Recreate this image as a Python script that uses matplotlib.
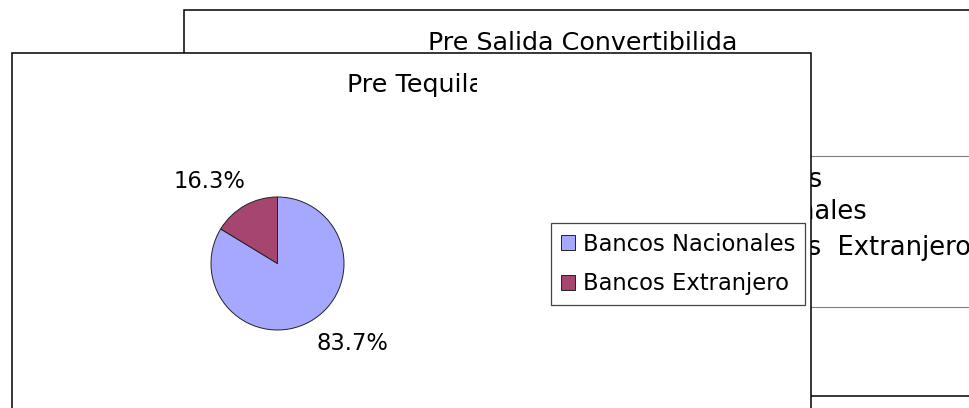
import matplotlib.pyplot as plt
from matplotlib.patches import Rectangle

# Datos del grafico (Pre Tequila)
categorias = ["Bancos Nacionales", "Bancos Extranjero"]
participacion = [83.7, 16.3]
colores = ["#A6A8FF", "#A6466F"]

titulo_frente = "Pre Tequila"
titulo_fondo = "Pre Salida Convertibilida"
leyenda_fondo = ["Bancos", "Nacionales", "Bancos  Extranjero"]

# posicion de las etiquetas de porcentaje (en radios del pie)
pos_etiquetas = [(1.12, -1.20), (-1.03, 1.23)]

W, H = 970, 408
fig = plt.figure(figsize=(W / 100, H / 100), dpi=100)
ax = fig.add_axes([0, 0, 1, 1])
ax.set_xlim(0, W)
ax.set_ylim(H, 0)
ax.axis('off')

# Grafico de atras (Pre Salida Convertibilidad), tapado por el de adelante
ax.add_patch(Rectangle((184, 10), 900, 386, facecolor='white',
                       edgecolor='black', linewidth=1.1, zorder=1))
ax.text(583, 50, titulo_fondo, ha='center', va='baseline', fontsize=18.3, zorder=2)
ax.add_patch(Rectangle((700, 156), 400, 151, facecolor='none',
                       edgecolor='#808080', linewidth=0.8, zorder=2))
ax.text(823, 187, leyenda_fondo[0], ha='right', va='baseline', fontsize=18.5, zorder=2)
ax.text(867, 219, leyenda_fondo[1], ha='right', va='baseline', fontsize=18.5, zorder=2)
ax.text(728, 255, leyenda_fondo[2], ha='left', va='baseline', fontsize=18.5, zorder=2)

# Grafico de adelante
ax.add_patch(Rectangle((12, 53), 799, 400, facecolor='white',
                       edgecolor='black', linewidth=1.1, zorder=5))
ax.text(347, 92, titulo_frente, ha='left', va='baseline', fontsize=18.3, zorder=6)
# el titulo aparece cortado en la "a": se tapa el resto con blanco
ax.add_patch(Rectangle((477, 66), 30, 34, facecolor='white', edgecolor='none', zorder=7))

# Pie
cx, cy, r = 277.5, 263.5, 66.5
ax_pie = fig.add_axes([(cx - r) / W, (H - cy - r) / H, 2 * r / W, 2 * r / H])
wedges, _ = ax_pie.pie(participacion, colors=colores, startangle=90, counterclock=False,
                       wedgeprops=dict(edgecolor='#222222', linewidth=0.7))
ax_pie.set_xlim(-1, 1)
ax_pie.set_ylim(-1, 1)
ax_pie.set_aspect('equal')
ax_pie.axis('off')
for v, (px, py) in zip(participacion, pos_etiquetas):
    ax_pie.text(px, py, f"{v:.1f}%", ha='center', va='center', fontsize=16.3)

leg = fig.legend(wedges, categorias, loc='upper left',
                 bbox_to_anchor=(551 / W, 1 - 223 / H), bbox_transform=fig.transFigure,
                 borderaxespad=0, borderpad=0.42, handlelength=0.62, handleheight=0.62,
                 handletextpad=0.38, labelspacing=0.74, fontsize=16.3,
                 fancybox=False, framealpha=1, edgecolor='#444444')
leg.get_frame().set_linewidth(0.9)

fig.savefig('out.png', dpi=100)
